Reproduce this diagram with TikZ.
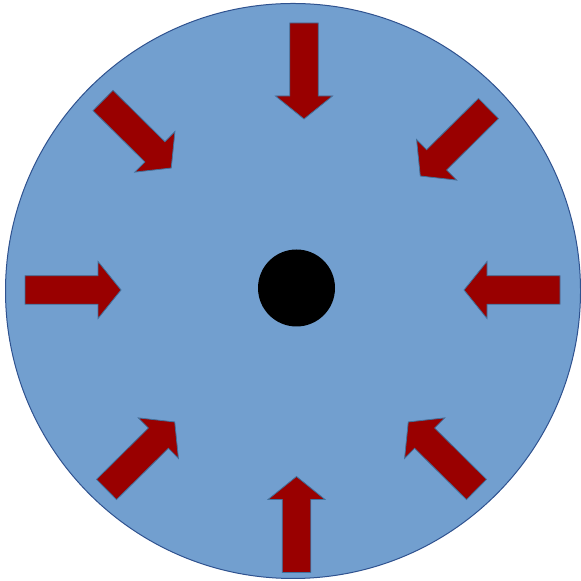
\documentclass[tikz,border=0pt]{standalone}
\usepackage{xcolor}
\usepackage{tikz}
\definecolor{discblue}{RGB}{114,159,207}
\definecolor{discedge}{RGB}{47,82,143}
\definecolor{pushred}{RGB}{153,0,0}
\definecolor{pushedge}{RGB}{65,113,156}

\begin{document}
\begin{tikzpicture}[
    x=0.5pt,y=0.5pt,
    core/.style={circle,fill=black,minimum size=38.5pt,inner sep=0pt},
    inarrow/.pic={
      \draw[fill=pushred,draw=pushedge,line width=0.4pt]
        (0,-14.25) -- (73,-14.25) -- (73,-28.5) -- (96,0)
        -- (73,28.5) -- (73,14.25) -- (0,14.25) -- cycle;
    }
  ]
  \useasboundingbox (0,0) rectangle (581,581);

  % disc and centre
  \fill[discblue,draw=discedge,line width=0.5pt] (293,290) circle (287.5);
  \node[core] (centre) at (296.5,293) {};

  % arrows pointing inwards
  \foreach \tx/\ty/\ang in {304/558/-90, 296.5/8.5/90, 25/291/0, 560/291/180,
      103/480.5/-44.7, 488.5/472.5/-135.3, 106.5/91.5/44.7, 476.5/91.5/135.3} {
    \pic[rotate=\ang] at (\tx,\ty) {inarrow};
  }
\end{tikzpicture}
\end{document}
